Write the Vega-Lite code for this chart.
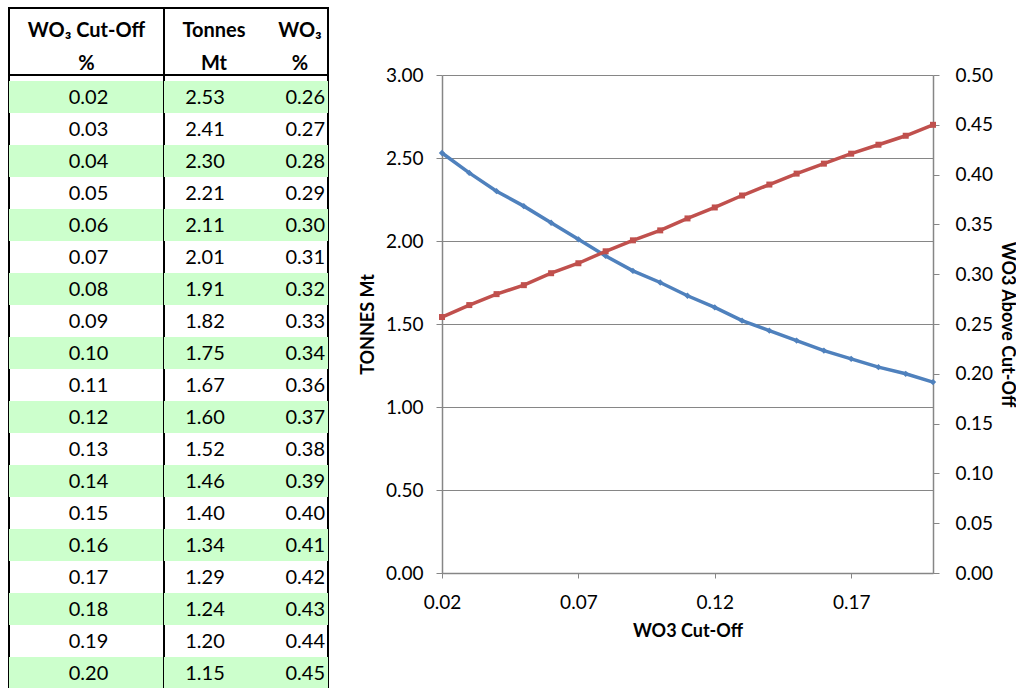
{
  "$schema": "https://vega.github.io/schema/vega-lite/v6.json",
  "padding": {"left": 8, "top": 7, "right": 0, "bottom": 0},
  "background": "white",
  "config": {"view": {"stroke": null}, "font": "Lato"},
  "datasets": {
    "rows": [
      {"cutoff": 0.02, "tonnes": 2.53, "grade": 0.257},
      {"cutoff": 0.03, "tonnes": 2.41, "grade": 0.269},
      {"cutoff": 0.04, "tonnes": 2.30, "grade": 0.280},
      {"cutoff": 0.05, "tonnes": 2.21, "grade": 0.289},
      {"cutoff": 0.06, "tonnes": 2.11, "grade": 0.301},
      {"cutoff": 0.07, "tonnes": 2.01, "grade": 0.311},
      {"cutoff": 0.08, "tonnes": 1.91, "grade": 0.323},
      {"cutoff": 0.09, "tonnes": 1.82, "grade": 0.334},
      {"cutoff": 0.10, "tonnes": 1.75, "grade": 0.344},
      {"cutoff": 0.11, "tonnes": 1.67, "grade": 0.356},
      {"cutoff": 0.12, "tonnes": 1.60, "grade": 0.367},
      {"cutoff": 0.13, "tonnes": 1.52, "grade": 0.379},
      {"cutoff": 0.14, "tonnes": 1.46, "grade": 0.390},
      {"cutoff": 0.15, "tonnes": 1.40, "grade": 0.401},
      {"cutoff": 0.16, "tonnes": 1.34, "grade": 0.411},
      {"cutoff": 0.17, "tonnes": 1.29, "grade": 0.421},
      {"cutoff": 0.18, "tonnes": 1.24, "grade": 0.430},
      {"cutoff": 0.19, "tonnes": 1.20, "grade": 0.439},
      {"cutoff": 0.20, "tonnes": 1.15, "grade": 0.450}
    ],
    "header": [
      {"col": "cut", "line": 1, "label": "WO₃ Cut-Off"},
      {"col": "cut", "line": 2, "label": "%"},
      {"col": "tonnes", "line": 1, "label": "Tonnes"},
      {"col": "tonnes", "line": 2, "label": "Mt"},
      {"col": "grade", "line": 1, "label": "WO₃"},
      {"col": "grade", "line": 2, "label": "%"}
    ]
  },
  "columns": 4,
  "spacing": 0,
  "bounds": "flush",
  "align": "each",
  "concat": [
    {
      "width": 155, "height": 67,
      "view": {"stroke": "black", "strokeWidth": 2},
      "data": {"name": "header"},
      "transform": [{"filter": "datum.col == 'cut'"}],
      "mark": {"type": "text", "fontSize": 20, "fontWeight": "bold", "baseline": "middle", "dy": 6, "color": "black"},
      "encoding": {
        "y": {"field": "line", "type": "ordinal", "axis": null, "scale": {"paddingInner": 0, "paddingOuter": 0}},
        "text": {"field": "label"}
      }
    },
    {
      "width": 164, "height": 67,
      "view": {"stroke": "black", "strokeWidth": 2},
      "data": {"name": "header"},
      "encoding": {
        "y": {"field": "line", "type": "ordinal", "axis": null, "scale": {"paddingInner": 0, "paddingOuter": 0}},
        "text": {"field": "label"}
      },
      "layer": [
        {
          "transform": [{"filter": "datum.col == 'tonnes'"}],
          "mark": {"type": "text", "fontSize": 20, "fontWeight": "bold", "baseline": "middle", "dy": 6, "dx": -32, "color": "black"}
        },
        {
          "transform": [{"filter": "datum.col == 'grade'"}],
          "mark": {"type": "text", "fontSize": 20, "fontWeight": "bold", "baseline": "middle", "dy": 6, "dx": 54, "color": "black"}
        }
      ]
    },
    {
      "width": 114, "height": 1,
      "data": {"values": []},
      "mark": {"type": "point", "opacity": 0}
    },
    {
      "width": 1, "height": 1,
      "data": {"values": []},
      "mark": {"type": "point", "opacity": 0}
    },
    {
      "width": 155, "height": 614,
      "view": {"stroke": "black", "strokeWidth": 2},
      "data": {"name": "rows"},
      "encoding": {
        "y": {"field": "cutoff", "type": "ordinal", "axis": null, "scale": {"paddingInner": 0, "paddingOuter": 0.09375, "align": 1}}
      },
      "layer": [
        {
          "transform": [{"filter": "round(datum.cutoff*100) % 2 == 0"}],
          "mark": {"type": "rect", "color": "#CCFFCC"}
        },
        {
          "mark": {"type": "text", "fontSize": 20, "baseline": "middle", "dx": 2, "dy": 1, "color": "black"},
          "encoding": {"text": {"field": "cutoff", "format": ".2f"}}
        }
      ]
    },
    {
      "width": 164, "height": 614,
      "view": {"stroke": "black", "strokeWidth": 2},
      "data": {"name": "rows"},
      "encoding": {
        "y": {"field": "cutoff", "type": "ordinal", "axis": null, "scale": {"paddingInner": 0, "paddingOuter": 0.09375, "align": 1}}
      },
      "layer": [
        {
          "transform": [{"filter": "round(datum.cutoff*100) % 2 == 0"}],
          "mark": {"type": "rect", "color": "#CCFFCC"}
        },
        {
          "mark": {"type": "text", "fontSize": 20, "baseline": "middle", "dx": -41, "dy": 1, "color": "black"},
          "encoding": {"text": {"field": "tonnes", "format": ".2f"}}
        },
        {
          "mark": {"type": "text", "fontSize": 20, "baseline": "middle", "align": "right", "dx": 79, "dy": 1, "color": "black"},
          "encoding": {"text": {"field": "grade", "format": ".2f"}}
        }
      ]
    },
    {
      "width": 1, "height": 1,
      "data": {"values": []},
      "mark": {"type": "point", "opacity": 0}
    },
    {
      "width": 491, "height": 498,
      "data": {"name": "rows"},
      "encoding": {
        "x": {
          "field": "cutoff", "type": "quantitative",
          "scale": {"domain": [0.02, 0.2], "nice": false, "zero": false},
          "axis": {
            "values": [0.02, 0.07, 0.12, 0.17], "format": ".2f", "grid": false, "labelFlush": false,
            "title": "WO3 Cut-Off", "titleFontSize": 18, "titleFontWeight": "bold", "titleColor": "black", "titlePadding": 10,
            "labelFontSize": 19, "labelColor": "black", "labelPadding": 15,
            "domainColor": "#868686", "domainWidth": 1.5, "tickColor": "#868686", "tickSize": 5
          }
        }
      },
      "layer": [
        {
          "encoding": {
            "y": {
              "field": "tonnes", "type": "quantitative",
              "scale": {"domain": [0, 3], "nice": false},
              "axis": {
                "orient": "left", "values": [0, 0.5, 1, 1.5, 2, 2.5, 3], "format": ".2f", "labelFlush": false,
                "title": "TONNES Mt", "titleFontSize": 18, "titleFontWeight": "bold", "titleColor": "black", "titlePadding": 8,
                "labelFontSize": 19, "labelColor": "black", "labelPadding": 13,
                "grid": true, "gridColor": "#868686", "gridWidth": 1,
                "domainColor": "#868686", "domainWidth": 1.5, "tickColor": "#868686", "tickSize": 6
              }
            }
          },
          "layer": [
            {"mark": {"type": "line", "color": "#4F81BD", "strokeWidth": 3.5}},
            {"mark": {"type": "point", "shape": "diamond", "filled": true, "opacity": 1, "size": 40, "color": "#4F81BD"}}
          ]
        },
        {
          "encoding": {
            "y": {
              "field": "grade", "type": "quantitative",
              "scale": {"domain": [0, 0.5], "nice": false},
              "axis": {
                "orient": "right", "values": [0, 0.05, 0.1, 0.15, 0.2, 0.25, 0.3, 0.35, 0.4, 0.45, 0.5], "format": ".2f", "labelFlush": false,
                "title": "WO3 Above Cut-Off", "titleFontSize": 18, "titleFontWeight": "bold", "titleColor": "black", "titlePadding": 5,
                "labelFontSize": 19, "labelColor": "black", "labelPadding": 16,
                "grid": false,
                "domainColor": "#868686", "domainWidth": 1.5, "tickColor": "#868686", "tickSize": 6
              }
            }
          },
          "layer": [
            {"mark": {"type": "line", "color": "#C0504D", "strokeWidth": 3.5}},
            {"mark": {"type": "point", "shape": "square", "filled": true, "opacity": 1, "size": 36, "color": "#C0504D"}}
          ]
        }
      ],
      "resolve": {"scale": {"y": "independent"}}
    }
  ]
}
